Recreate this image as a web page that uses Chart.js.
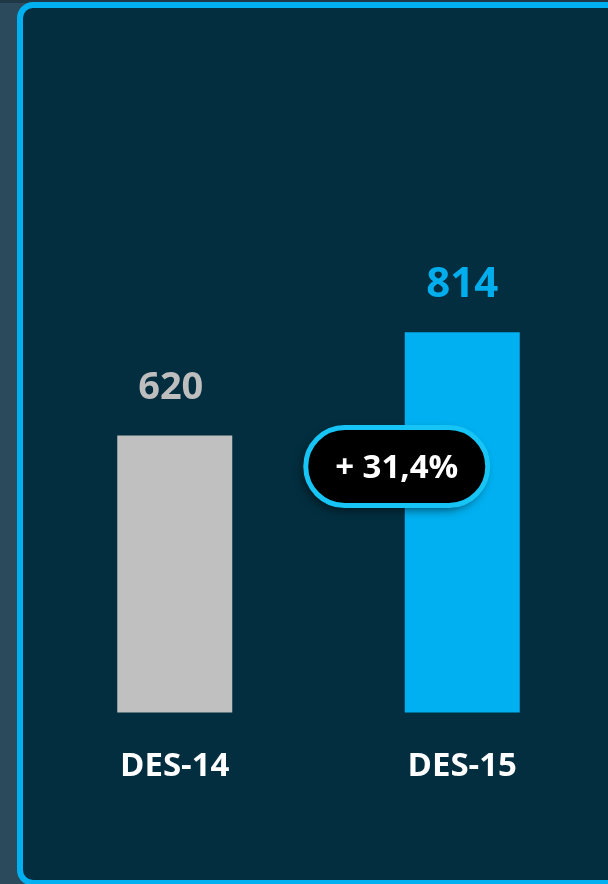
<!DOCTYPE html>
<html>
<head>
<meta charset="utf-8">
<script src="https://cdn.jsdelivr.net/npm/chart.js@4.4.1/dist/chart.umd.min.js"></script>
<style>
  html, body {
    margin: 0;
    padding: 0;
    width: 608px;
    height: 884px;
    overflow: hidden;
    background: #2B4A5B;
  }
  .top-strip {
    position: absolute;
    left: 0;
    top: 0;
    width: 608px;
    height: 3px;
    background: #1F3846;
  }
  .panel {
    position: absolute;
    left: 17px;
    top: 2px;
    width: 640px;
    height: 884px;
    box-sizing: border-box;
    border: 6px solid #00B0F0;
    border-radius: 16px;
    background: #022E3F;
  }
  #chart {
    position: absolute;
    left: 0;
    top: 0;
  }
</style>
</head>
<body>
<div class="top-strip"></div>
<div class="panel"></div>
<canvas id="chart" width="608" height="884"></canvas>
<script>
const categories = ['DES-14', 'DES-15'];
const values = [620, 814];
const barColors = ['#C0C0C0', '#00B0F0'];
const labelColors = ['#BEBEBE', '#00AEEE'];
const changeLabel = '+ 31,4%';

const FONT = '"Open Sans", "Noto Sans", sans-serif';

// valori sopra le barre
const valueLabels = {
  id: 'valueLabels',
  afterDatasetsDraw(chart) {
    const ctx = chart.ctx;
    const meta = chart.getDatasetMeta(0);
    const sizes = [38, 42];
    const lift = [37, 35];
    const shiftX = [-4, 0];
    ctx.save();
    ctx.textAlign = 'center';
    ctx.textBaseline = 'alphabetic';
    meta.data.forEach((bar, i) => {
      ctx.font = 'bold ' + sizes[i] + 'px ' + FONT;
      ctx.fillStyle = labelColors[i];
      ctx.fillText(values[i], bar.x + shiftX[i], bar.y - lift[i]);
    });
    ctx.restore();
  },
};

// etichetta variazione
const changeBadge = {
  id: 'changeBadge',
  afterDraw(chart) {
    const ctx = chart.ctx;
    const bars = chart.getDatasetMeta(0).data;
    const blue = bars[1];
    const gray = bars[0];
    const w = 182;
    const h = 78;
    const cx = blue.x - blue.width / 2 - 8;
    const cy = gray.y + 31;
    const r = h / 2;
    ctx.save();
    ctx.beginPath();
    ctx.roundRect(cx - w / 2, cy - h / 2, w, h, r);
    ctx.shadowColor = 'rgba(0, 0, 0, 0.6)';
    ctx.shadowBlur = 10;
    ctx.shadowOffsetX = -3;
    ctx.shadowOffsetY = 4;
    ctx.fillStyle = '#000000';
    ctx.fill();
    ctx.shadowColor = 'transparent';
    ctx.lineWidth = 5;
    ctx.strokeStyle = '#16C4F6';
    ctx.stroke();
    ctx.fillStyle = '#FFFFFF';
    ctx.font = 'bold 33px ' + FONT;
    ctx.textAlign = 'center';
    ctx.textBaseline = 'middle';
    ctx.fillText(changeLabel, cx, cy + 2);
    ctx.restore();
  },
};

const ctx = document.getElementById('chart').getContext('2d');
new Chart(ctx, {
  type: 'bar',
  data: {
    labels: categories,
    datasets: [
      {
        data: values,
        backgroundColor: barColors,
        borderWidth: 0,
        categoryPercentage: 0.5,
        barPercentage: 0.8,
      },
    ],
  },
  options: {
    responsive: false,
    animation: false,
    devicePixelRatio: 1,
    layout: {
      padding: { left: 31, right: 2, top: 180, bottom: 64 },
    },
    plugins: {
      legend: { display: false },
      tooltip: { enabled: false },
    },
    scales: {
      x: {
        grid: { display: false, drawTicks: false },
        border: { display: false },
        ticks: {
          color: '#FFFFFF',
          padding: 34,
          font: { family: FONT, size: 33, weight: 'bold', lineHeight: 1.2 },
        },
      },
      y: {
        display: false,
        min: 100,
        max: 1100,
      },
    },
  },
  plugins: [valueLabels, changeBadge],
});
</script>
</body>
</html>
